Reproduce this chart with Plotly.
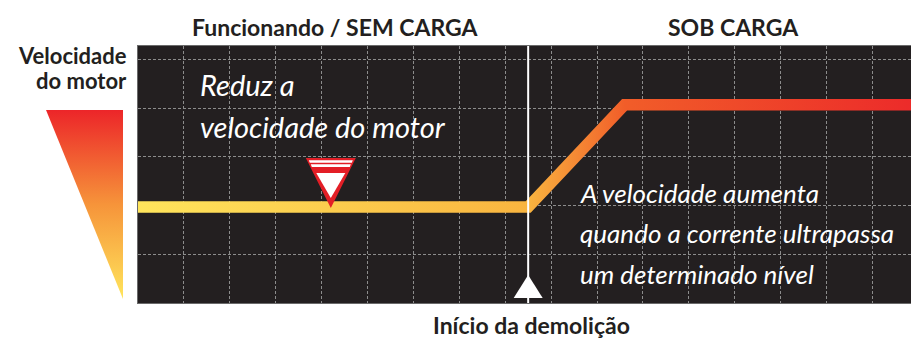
import numpy as np
import plotly.graph_objects as go

# motor speed curve (x in grid cells from left of panel, y in grid cells from bottom)
speed_x = [0, 8.5, 10.6, 16.84]
speed_y = [1.97, 1.97, 4.07, 4.07]
demolition_x = 8.5          # start of demolition
warning_x = 4.2             # "reduce speed" marker position

# speed legend wedge (0 = low speed, 1 = high speed)
wedge_x = [0, 1, 1, 0]
wedge_y = [1, 1, 0, 1]

line_colors = [[0, '#FFE55C'], [0.505, '#F9B43F'], [0.63, '#F15D29'], [1, '#EC2B2A']]
wedge_colors = [[0, '#FFE55C'], [0.5, '#F6943A'], [1, '#EC2529']]

W, H = 911, 341
PANEL_L, PANEL_T, PANEL_B = 138, 46, 303
X_MAX, Y_MAX = 16.84, 5.277
SX = (W - PANEL_L) / X_MAX
SY = (PANEL_B - PANEL_T) / Y_MAX

FONT = 'Lato, Roboto, sans-serif'
DARK = '#231F20'


def thick_band(xs, ys, half_px):
    """Outline of a thick polyline (miter joins), returned in data units."""
    p = np.column_stack([np.array(xs) * SX, np.array(ys) * SY])
    seg = np.diff(p, axis=0)
    seg /= np.linalg.norm(seg, axis=1)[:, None]
    nrm = np.column_stack([-seg[:, 1], seg[:, 0]])
    offs = []
    for i in range(len(p)):
        if i == 0:
            n = nrm[0]; length = half_px
        elif i == len(p) - 1:
            n = nrm[-1]; length = half_px
        else:
            m = nrm[i - 1] + nrm[i]
            n = m / np.linalg.norm(m)
            length = half_px / np.dot(n, nrm[i])
        offs.append(n * length)
    offs = np.array(offs)
    up = p + offs
    lo = p - offs
    poly = np.vstack([up, lo[::-1], up[:1]])
    return poly[:, 0] / SX, poly[:, 1] / SY


bx, by = thick_band(speed_x, speed_y, 5.8)

fig = go.Figure()

fig.add_trace(go.Scatter(
    x=bx, y=by, fill='toself', mode='lines', line=dict(width=0),
    fillgradient=dict(type='horizontal', colorscale=line_colors),
    hoverinfo='skip', showlegend=False
))

fig.add_trace(go.Scatter(
    x=wedge_x, y=wedge_y, xaxis='x2', yaxis='y2', fill='toself', mode='lines',
    line=dict(width=0),
    fillgradient=dict(type='vertical', colorscale=wedge_colors),
    hoverinfo='skip', showlegend=False
))

grid = dict(showgrid=True, gridcolor='#8c8c8c', gridwidth=1, griddash='3px,2px',
            zeroline=False, showticklabels=False, ticks='',
            showline=True, linecolor='#6a6a6a', linewidth=1, mirror=True)

fig.update_layout(
    width=W, height=H,
    margin=dict(l=0, r=0, t=PANEL_T, b=H - PANEL_B),
    paper_bgcolor='white', plot_bgcolor='white',
    xaxis=dict(domain=[PANEL_L / W, 1], range=[0, X_MAX], dtick=1, tick0=0, **grid),
    yaxis=dict(range=[0, Y_MAX], dtick=1, tick0=0, **grid),
    xaxis2=dict(domain=[46 / W, 123 / W], range=[0, 1], visible=False, anchor='y2'),
    yaxis2=dict(domain=[(PANEL_B - 299) / (PANEL_B - PANEL_T), (PANEL_B - 110) / (PANEL_B - PANEL_T)],
                range=[0, 1], visible=False, anchor='x2'),
    showlegend=False,
)

shapes = [
    # dark panel
    dict(type='rect', xref='x domain', yref='y domain', x0=0, x1=1, y0=0, y1=1,
         fillcolor=DARK, line=dict(width=0), layer='below'),
    # demolition marker line
    dict(type='line', xref='x', yref='y domain', x0=demolition_x, x1=demolition_x, y0=0, y1=1,
         line=dict(color='white', width=2), layer='above'),
    dict(type='path', xref='x', yref='y', xsizemode='pixel', ysizemode='pixel',
         xanchor=demolition_x, yanchor=0, path='M -14.5,5 L 14.5,5 L 0,28 Z',
         fillcolor='white', line=dict(width=0)),
]

# warning symbol (red outline, white stripes, white inner triangle)
wy = speed_y[0]
for path, col in [
    ('M -25,49 L 25,49 L 0,-1 Z', '#E31E26'),
    ('M -22,46.7 L 22,46.7 L 21,44.3 L -21,44.3 Z', 'white'),
    ('M -20,42.7 L 20,42.7 L 19,40 L -19,40 Z', 'white'),
    ('M -14.5,34 L 14.5,34 L 0,9 Z', 'white'),
]:
    shapes.append(dict(type='path', xref='x', yref='y', xsizemode='pixel', ysizemode='pixel',
                       xanchor=warning_x, yanchor=wy, path=path, fillcolor=col,
                       line=dict(width=0)))
fig.update_layout(shapes=shapes)

# (text, x px, baseline px, size, anchor, colour)
labels = [
    ('<b>Funcionando / SEM CARGA</b>', 335, 35, 23, 'center', DARK),
    ('<b>SOB CARGA</b>', 733, 35, 23, 'center', DARK),
    ('<b>Início da demolição</b>', 531, 333, 23, 'center', DARK),
    ('<b>Velocidade</b>', 128, 63, 22, 'right', DARK),
    ('<b>do motor</b>', 128, 88, 22, 'right', DARK),
    ('<i>Reduz a</i>', 199, 95, 29, 'left', 'white'),
    ('<i>velocidade do motor</i>', 199, 137, 29, 'left', 'white'),
    ('<i>A velocidade aumenta</i>', 579, 202, 26, 'left', 'white'),
    ('<i>quando a corrente ultrapassa</i>', 579, 242, 26, 'left', 'white'),
    ('<i>um determinado nível</i>', 579, 283, 26, 'left', 'white'),
]

fig.update_layout(annotations=[
    dict(text=t, x=x / W, y=(PANEL_B - (b - 0.35 * s)) / (PANEL_B - PANEL_T),
         xref='paper', yref='paper', showarrow=False,
         xanchor=a, yanchor='middle', borderpad=0,
         font=dict(family=FONT, size=s, color=c))
    for t, x, b, s, a, c in labels
])

# drop the default page margin so the figure sits at the window's top-left corner
fig.write_html('out.html', config={'displayModeBar': False},
               post_script="document.body.style.margin='0';")
